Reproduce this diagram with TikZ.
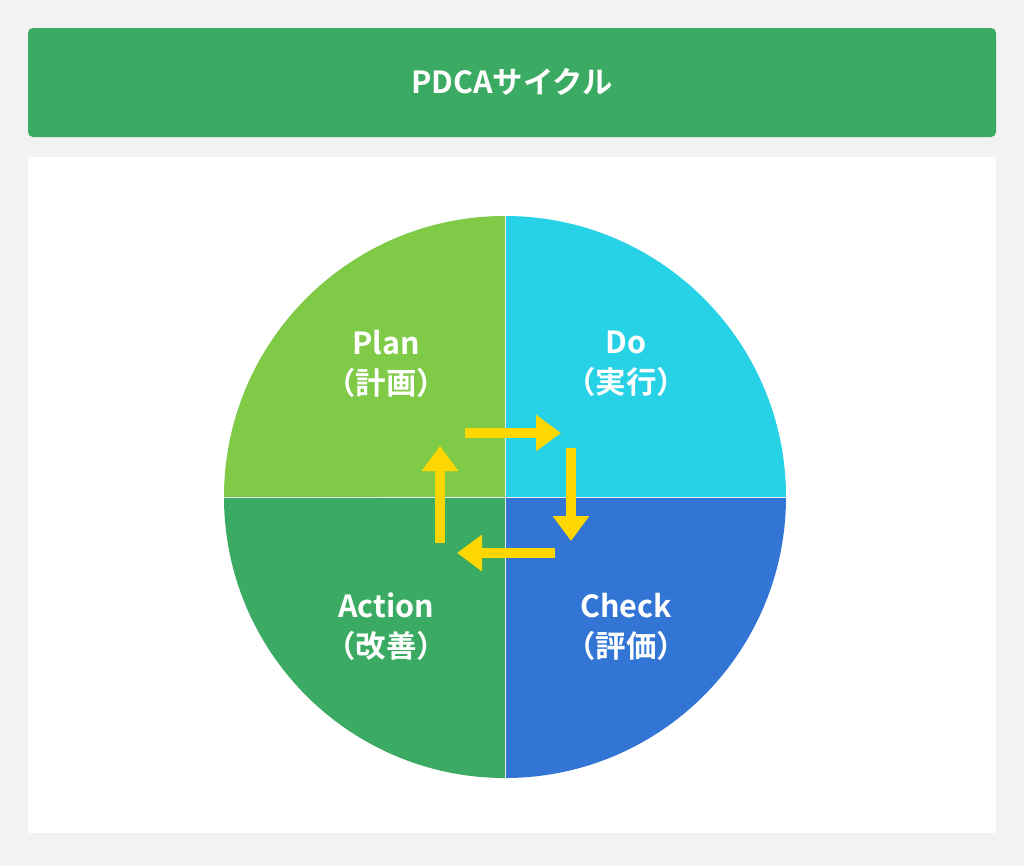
\documentclass[tikz,border=0pt]{standalone}
\usepackage{fontspec}
\setmainfont{Noto Sans CJK JP}[BoldFont={Noto Sans CJK JP Bold}]
\usetikzlibrary{arrows.meta}
\definecolor{pdgreen}{HTML}{3BAA62}
\definecolor{plgreen}{HTML}{7FCB48}
\definecolor{docyan}{HTML}{27D1E6}
\definecolor{chblue}{HTML}{3375D4}
\definecolor{bggray}{HTML}{F2F2F2}
\definecolor{arryellow}{HTML}{FFD700}
\tikzset{
  qlabel/.style={text=white, font=\bfseries\fontsize{26}{34}\selectfont, align=center},
  cyc/.style={draw=arryellow, line width=0.3cm, -{Triangle[length=0.75cm,width=1.05cm]}}
}

\begin{document}
\begin{tikzpicture}[x=0.03cm, y=-0.03cm]
    \useasboundingbox (0,0) rectangle (1024,866);
    \fill[bggray] (0,0) rectangle (1024,866);
    % title
    \fill[pdgreen, rounded corners=0.15cm] (28,28) rectangle (996,137);
    \node(title) [qlabel] at (512,82) {PDCAサイクル};
    % panel
    \fill[white] (28,157) rectangle (996,833);

    % quadrants
    \fill[plgreen] (505,497) -- (224,497) arc[start angle=180, end angle=90, radius=8.43cm] -- cycle;
    \fill[docyan]  (505,497) -- (505,216) arc[start angle=90, end angle=0, radius=8.43cm] -- cycle;
    \fill[chblue]  (505,497) -- (786,497) arc[start angle=0, end angle=-90, radius=8.43cm] -- cycle;
    \fill[pdgreen] (505,497) -- (505,778) arc[start angle=-90, end angle=-180, radius=8.43cm] -- cycle;
    \draw[white!85!gray, line width=0.6pt] (224,497) -- (786,497) (505,216) -- (505,778);

    % labels
    \node(plan)   [qlabel] at (386,364) {Plan\\（計画）};
    \node(do)     [qlabel] at (626,364) {Do\\（実行）};
    \node(action) [qlabel] at (386,627) {Action\\（改善）};
    \node(check)  [qlabel] at (626,627) {Check\\（評価）};

    % cycle arrows
    \coordinate(p1) at (465,433); \coordinate(p2) at (561,433);
    \coordinate(d1) at (571,448); \coordinate(d2) at (571,541);
    \coordinate(c1) at (555,553); \coordinate(c2) at (457,553);
    \coordinate(a1) at (440,543); \coordinate(a2) at (440,446);
    \draw[cyc] (p1) -- (p2);
    \draw[cyc] (d1) -- (d2);
    \draw[cyc] (c1) -- (c2);
    \draw[cyc] (a1) -- (a2);
\end{tikzpicture}
\end{document}
